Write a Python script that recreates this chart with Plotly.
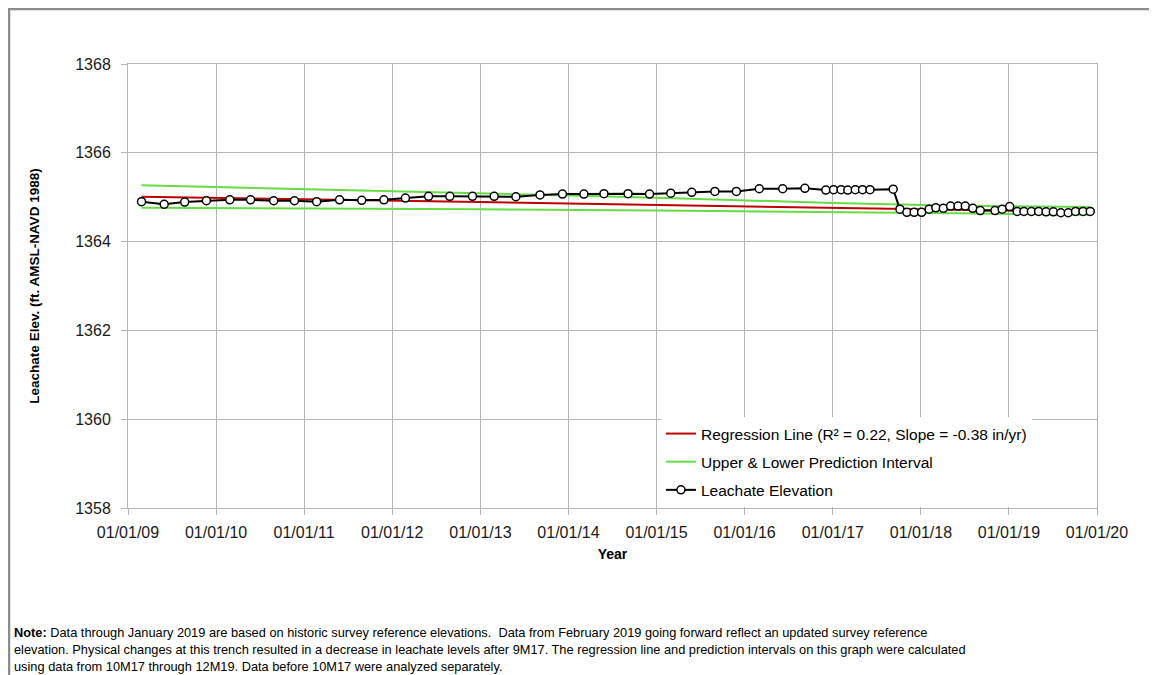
import pandas as pd
import plotly.graph_objects as go

# Leachate elevation readings (ft AMSL-NAVD 1988)
leach_dates = [
    "2009-02-26", "2009-05-31", "2009-08-24", "2009-11-22",
    "2010-02-27", "2010-05-24", "2010-08-28", "2010-11-22",
    "2011-02-22", "2011-05-28", "2011-08-28", "2011-11-28",
    "2012-02-25", "2012-05-31", "2012-08-27", "2012-11-29",
    "2013-02-27", "2013-05-28", "2013-09-05", "2013-12-07",
    "2014-03-06", "2014-05-28", "2014-09-05", "2014-12-03",
    "2015-03-01", "2015-05-27", "2015-08-31", "2015-11-28",
    "2016-03-02", "2016-06-07", "2016-09-07", "2016-12-03",
    "2017-01-04", "2017-02-04", "2017-03-04", "2017-04-04", "2017-05-04", "2017-06-04",
    "2017-09-08", "2017-10-06", "2017-11-04", "2017-12-04",
    "2018-01-04", "2018-02-04", "2018-03-04", "2018-04-04", "2018-05-04", "2018-06-04",
    "2018-07-04", "2018-08-04", "2018-09-04", "2018-11-04", "2018-12-04",
    "2019-01-04", "2019-02-04", "2019-03-04", "2019-04-04", "2019-05-04", "2019-06-04",
    "2019-07-04", "2019-08-04", "2019-09-04", "2019-10-04", "2019-11-04", "2019-12-04",
]
leach_elev = [
    1364.90, 1364.84, 1364.89, 1364.92,
    1364.94, 1364.94, 1364.92, 1364.92,
    1364.90, 1364.94, 1364.93, 1364.94,
    1364.98, 1365.02, 1365.02, 1365.02,
    1365.02, 1365.01, 1365.05, 1365.07,
    1365.07, 1365.08, 1365.08, 1365.07,
    1365.09, 1365.11, 1365.13, 1365.13,
    1365.19, 1365.19, 1365.20, 1365.16,
    1365.17, 1365.17, 1365.16, 1365.17, 1365.17, 1365.17,
    1365.18, 1364.73, 1364.66, 1364.66,
    1364.66, 1364.73, 1364.76, 1364.75, 1364.80, 1364.80,
    1364.80, 1364.75, 1364.70, 1364.70, 1364.73,
    1364.79, 1364.68, 1364.68, 1364.68, 1364.68, 1364.67,
    1364.67, 1364.65, 1364.65, 1364.68, 1364.68, 1364.68,
]

# Regression line end points
reg_dates = ["2009-02-26", "2019-12-04"]
reg_elev = [1365.01, 1364.67]

# Prediction interval
pi_dates = ["2009-02-26", "2011-01-01", "2013-01-01", "2015-01-01",
            "2017-01-01", "2018-06-01", "2019-12-04"]
pi_upper = [1365.27, 1365.18, 1365.09, 1364.99, 1364.87, 1364.81, 1364.78]
pi_lower = [1364.76, 1364.75, 1364.73, 1364.70, 1364.67, 1364.64, 1364.60]

note_lines = [
    "<b>Note:</b> Data through January 2019 are based on historic survey reference elevations.  "
    "Data from February 2019 going forward reflect an updated survey reference",
    "elevation. Physical changes at this trench resulted in a decrease in leachate levels after 9M17. "
    "The regression line and prediction intervals on this graph were calculated",
    "using data from 10M17 through 12M19. Data before 10M17 were analyzed separately.",
]

FONT = "Liberation Sans, Arial, sans-serif"
GRID = "#b4b4b4"

fig = go.Figure()

fig.add_trace(go.Scatter(
    x=pd.to_datetime(reg_dates), y=reg_elev, mode="lines",
    line=dict(color="#c00000", width=2),
    name="Regression Line (R² = 0.22, Slope = -0.38 in/yr)",
    legendgroup="reg",
))
fig.add_trace(go.Scatter(
    x=pd.to_datetime(pi_dates), y=pi_upper, mode="lines",
    line=dict(color="#66dd44", width=2),
    name="Upper & Lower Prediction Interval",
    legendgroup="pi",
))
fig.add_trace(go.Scatter(
    x=pd.to_datetime(pi_dates), y=pi_lower, mode="lines",
    line=dict(color="#66dd44", width=2),
    name="Lower", legendgroup="pi", showlegend=False,
))
fig.add_trace(go.Scatter(
    x=pd.to_datetime(leach_dates), y=leach_elev, mode="lines+markers",
    line=dict(color="black", width=2),
    marker=dict(symbol="circle", size=8, color="white",
                line=dict(color="black", width=1.5)),
    name="Leachate Elevation",
    legendgroup="leach",
))

fig.update_xaxes(
    type="date",
    range=["2009-01-01", "2020-01-01"],
    tick0="2009-01-01", dtick="M12", tickformat="%m/%d/%y",
    showgrid=True, gridcolor=GRID, gridwidth=1,
    showline=True, linecolor=GRID, linewidth=1, mirror=True,
    ticks="outside", ticklen=6, tickcolor=GRID, ticklabelstandoff=4,
    tickfont=dict(family=FONT, size=16, color="#1a1a1a"),
    title=dict(text="<b>Year</b>", font=dict(family=FONT, size=14, color="black"),
               standoff=8),
    zeroline=False,
)
fig.update_yaxes(
    range=[1358, 1368], dtick=2, tickformat="d",
    showgrid=True, gridcolor=GRID, gridwidth=1,
    showline=True, linecolor=GRID, linewidth=1, mirror=True,
    ticks="outside", ticklen=6, tickcolor=GRID, ticklabelstandoff=7,
    tickfont=dict(family=FONT, size=16, color="#1a1a1a"),
    title=dict(text="<b>Leachate Elev. (ft. AMSL-NAVD 1988)</b>",
               font=dict(family=FONT, size=13.5, color="black"), standoff=32),
    zeroline=False,
)

# outer frame around the whole chart
fig.add_shape(type="rect", xref="paper", yref="paper",
              x0=-0.1228, x1=1.08, y0=-0.40, y1=1.1239,
              line=dict(color="#8c8c8c", width=2.5), layer="below")

for i, line in enumerate(note_lines):
    fig.add_annotation(
        xref="paper", yref="paper", x=-0.1197, y=-0.2815 - i * 0.0372,
        xanchor="left", yanchor="middle", showarrow=False, align="left",
        text=line, font=dict(family=FONT, size=12.8, color="black"),
    )

fig.update_layout(
    width=1149, height=667,
    margin=dict(l=120, r=60, t=56, b=167),
    paper_bgcolor="white", plot_bgcolor="white",
    showlegend=True,
    legend=dict(
        x=0.550, y=0.205, xanchor="left", yanchor="top",
        bgcolor="white", borderwidth=0,
        font=dict(family=FONT, size=15.5, color="black"),
        traceorder="grouped", tracegroupgap=5,
    ),
)

fig.write_html("out.html")
